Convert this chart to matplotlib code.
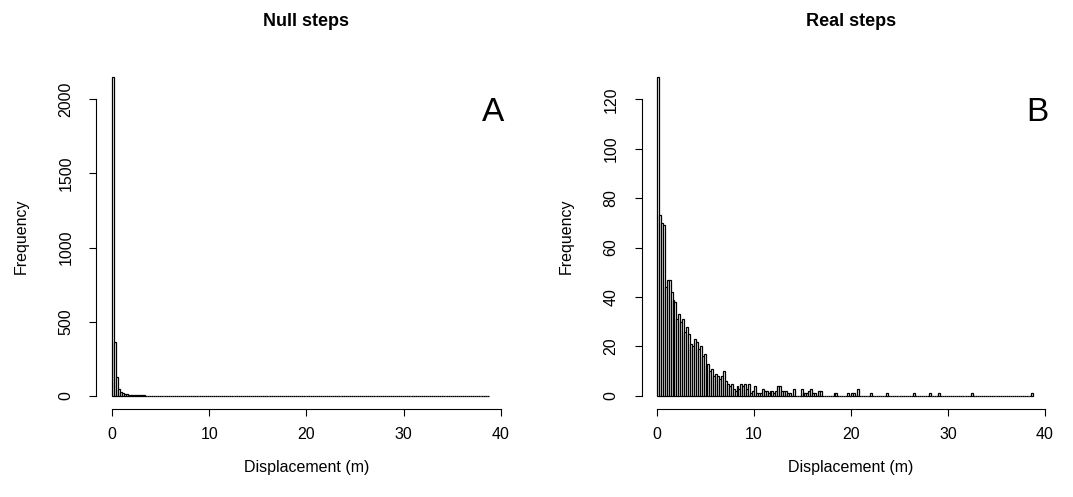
import numpy as np
import matplotlib
matplotlib.use("Agg")
import matplotlib.pyplot as plt

plt.rcParams['font.family'] = ['Liberation Sans', 'DejaVu Sans']

# histogram bins: 0.2 m wide, from 0 to 38.8 m
bin_width = 0.2
bin_max = 38.8

# Null steps: counts per bin for the first 4 m, then scattered small counts
null_head = [2150, 365, 125, 45, 25, 18, 12, 10, 8, 7,
             6, 5, 4, 4, 3, 3, 3, 2, 2, 2]
null_tail_disp = [4.3, 4.7, 5.1, 5.5, 6.1, 6.7, 7.3, 8.1, 9.3, 10.5,
                  12.1, 13.7, 15.3, 17.9, 21.1, 24.5, 29.9, 38.7]
null_tail_freq = [2, 2, 2, 1, 2, 1, 1, 1, 1, 1,
                  1, 1, 1, 1, 1, 1, 1, 1]

# Real steps: counts per bin for the first 16 m, then scattered counts
real_head = [129, 73, 70, 69, 44, 47, 47, 42, 39, 38,
             31, 33, 30, 31, 26, 28, 25, 21, 20, 23,
             22, 19, 20, 16, 17, 12, 13, 10, 11, 8,
             9, 8, 7, 8, 10, 6, 5, 4, 5, 3,
             2, 4, 3, 5, 4, 5, 3, 5, 1, 2,
             4, 1, 1, 1, 3, 2, 2, 1, 2, 2,
             1, 2, 4, 4, 2, 2, 2, 1, 1, 0,
             3, 0, 0, 0, 3, 1, 1, 1, 2, 3]
real_tail_disp = [16.1, 16.3, 16.7, 16.9, 18.3, 18.5, 19.7, 20.1, 20.3, 20.7,
                  22.1, 23.7, 26.5, 28.1, 29.1, 32.5, 38.7]
real_tail_freq = [1, 1, 2, 2, 1, 1, 1, 1, 1, 3,
                  1, 1, 1, 1, 1, 1, 1]

titles = ["Null steps", "Real steps"]
letters = ["A", "B"]
y_ticks = [[0, 500, 1000, 1500, 2000], [0, 20, 40, 60, 80, 100, 120]]
x_ticks = [0, 10, 20, 30, 40]


def merge(head, tail_disp, tail_freq):
    n = len(head)
    centers = np.arange(n) * bin_width + bin_width / 2
    x = np.concatenate([centers, tail_disp])
    w = np.concatenate([head, tail_freq])
    return x, w


W, H = 1073, 497
fig = plt.figure(figsize=(W / 100, H / 100), dpi=100)

edges = np.arange(0, bin_max + bin_width / 2, bin_width)
panels = [merge(null_head, null_tail_disp, null_tail_freq),
          merge(real_head, real_tail_disp, real_tail_freq)]
lefts = [96.4, 641.5]
width_px = [420.1, 419.0]

for i in range(2):
    x, w = panels[i]
    ax = fig.add_axes([lefts[i] / W, 0.1777, width_px[i] / W, 0.6929])
    counts, _, _ = ax.hist(x, bins=edges, weights=w, color='white',
                           edgecolor='black', linewidth=0.9)
    ymax = counts.max()
    ax.set_xlim(-1.6, 41.6)
    ax.set_ylim(-0.04 * ymax, 1.04 * ymax)

    for s in ['top', 'right']:
        ax.spines[s].set_visible(False)
    ax.spines['bottom'].set_bounds(0, 40)
    ax.spines['left'].set_bounds(y_ticks[i][0], y_ticks[i][-1])
    ax.spines['bottom'].set_linewidth(0.8)
    ax.spines['left'].set_linewidth(0.8)

    ax.set_xticks(x_ticks)
    ax.set_yticks(y_ticks[i])
    ax.tick_params(direction='out', length=5, width=0.8, labelsize=11.5)
    ax.tick_params(axis='x', pad=8)
    ax.tick_params(axis='y', pad=11.5)
    for lab in ax.get_yticklabels():
        lab.set_rotation(90)
        lab.set_va('center')

    ax.set_xlabel("Displacement (m)", fontsize=11.5)
    ax.set_ylabel("Frequency", fontsize=11.5)
    ax.xaxis.set_label_coords(0.5, -0.17)
    ax.xaxis.label.set_va('center')
    ax.yaxis.set_label_coords(-0.18, 0.5)
    ax.yaxis.label.set_va('center')

    ax.text(0.945, 0.86, letters[i], transform=ax.transAxes, fontsize=24,
            ha='center', va='center')
    fig.text((lefts[i] + width_px[i] / 2) / W, 1 - 21 / H, titles[i],
             fontsize=13, fontweight='bold', ha='center', va='center')

fig.savefig("out.png", dpi=100)
